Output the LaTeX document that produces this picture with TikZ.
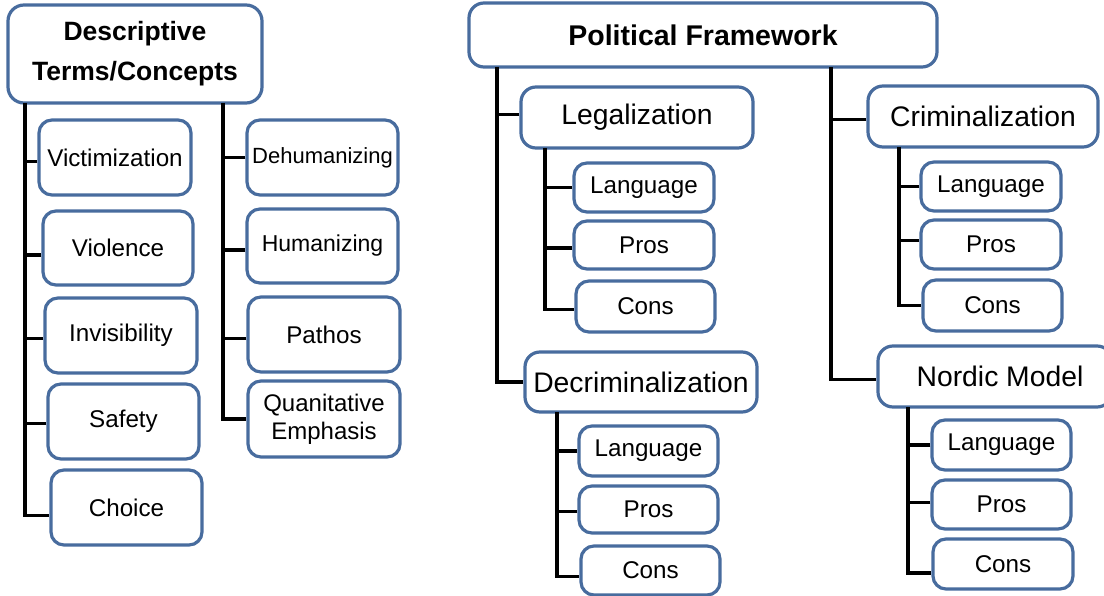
\documentclass[tikz,border=0pt]{standalone}
\usepackage{fontspec}
\setmainfont{Liberation Sans}
\definecolor{boxblue}{RGB}{72,108,158}
\tikzset{
  bx/.style={draw=boxblue, line width=3.2pt, fill=white, rounded corners=13pt, inner sep=0pt, align=center},
  topbox/.style={bx, rounded corners=16pt, font=\bfseries\fontsize{26.5}{40}\selectfont},
  lvlone/.style={bx, rounded corners=15pt, font=\fontsize{28.3}{32}\selectfont},
  lvltwo/.style={bx, font=\fontsize{24.2}{28}\selectfont},
  conn/.style={draw=black, line width=3.4pt},
}
\begin{document}
\begin{tikzpicture}[x=1pt,y=-1pt]
\useasboundingbox (0,0) rectangle (1104,596);
\clip (0,0) rectangle (1104,596);

% ---------- left tree ----------
\node[topbox, minimum width=254pt, minimum height=98pt] (desc) at (135,54) {Descriptive\\Terms/Concepts};
\node[lvltwo, minimum width=152pt, minimum height=75pt] (vict) at (115,157.5) {Victimization};
\node[lvltwo, minimum width=150pt, minimum height=74pt] (viol) at (118,248) {Violence};
\node[lvltwo, minimum width=152pt, minimum height=75pt] (invis) at (121,335.5) {Invisibility};
\node[lvltwo, minimum width=151pt, minimum height=75pt] (safe) at (123.5,421.5) {Safety};
\node[lvltwo, minimum width=151pt, minimum height=75pt] (choice) at (126.5,507.5) {Choice};

\node[lvltwo, font=\fontsize{22}{26}\selectfont, minimum width=151pt, minimum height=75pt] (dehum) at (322.5,157.5) {Dehumanizing};
\node[lvltwo, font=\fontsize{23}{27}\selectfont, minimum width=151pt, minimum height=74pt] (hum) at (322.5,246) {Humanizing};
\node[lvltwo, minimum width=152pt, minimum height=75pt] (pathos) at (324,334.5) {Pathos};
\node[lvltwo, font=\fontsize{24}{28}\selectfont, minimum width=152pt, minimum height=76pt] (quant) at (324,419) {Quanitative\\Emphasis};

\coordinate (ta) at (25,103);
\coordinate (tb) at (223,103);
\draw[conn] (ta) |- ([yshift=-8pt]choice.west);
\draw[conn] ([yshift=-4pt]vict.west) -- ([yshift=-4pt]vict.west -| ta);
\draw[conn] ([yshift=-7pt]viol.west) -- ([yshift=-7pt]viol.west -| ta);
\draw[conn] ([yshift=-3pt]invis.west) -- ([yshift=-3pt]invis.west -| ta);
\draw[conn] ([yshift=-2pt]safe.west) -- ([yshift=-2pt]safe.west -| ta);
\draw[conn] (tb) |- (quant.west);
\draw[conn] (dehum.west) -- (dehum.west -| tb);
\draw[conn] ([yshift=-4pt]hum.west) -- ([yshift=-4pt]hum.west -| tb);
\draw[conn] ([yshift=-4pt]pathos.west) -- ([yshift=-4pt]pathos.west -| tb);

% ---------- right tree ----------
\node[bx, rounded corners=15pt, font=\bfseries\fontsize{28.5}{32}\selectfont, minimum width=468pt, minimum height=64pt] (pol) at (703,35) {Political Framework};

\node[lvlone, minimum width=232pt, minimum height=61pt] (leg) at (637,117.5) {Legalization};
\node[lvltwo, minimum width=140pt, minimum height=49pt] (legA) at (644,187.5) {Language};
\node[lvltwo, minimum width=140pt, minimum height=48pt] (legB) at (644,245) {Pros};
\node[lvltwo, minimum width=139pt, minimum height=51pt] (legC) at (645.5,306.5) {Cons};

\node[lvlone, minimum width=232pt, minimum height=60pt] (dec) at (641,382) {Decriminalization};
\node[lvltwo, minimum width=139pt, minimum height=50pt] (decA) at (648.5,451) {Language};
\node[lvltwo, minimum width=139pt, minimum height=47pt] (decB) at (648.5,509.5) {Pros};
\node[lvltwo, minimum width=139pt, minimum height=49pt] (decC) at (650.5,570.5) {Cons};

\node[lvlone, minimum width=230pt, minimum height=61pt] (crim) at (983,116.5) {Criminalization};
\node[lvltwo, minimum width=140pt, minimum height=49pt] (crimA) at (991,186.5) {Language};
\node[lvltwo, minimum width=140pt, minimum height=49pt] (crimB) at (991,244.5) {Pros};
\node[lvltwo, minimum width=139pt, minimum height=51pt] (crimC) at (992.5,305.5) {Cons};

\node[lvlone, minimum width=234pt, minimum height=61pt] (nord) at (995,376.5) {\hspace*{10pt}Nordic Model};
\node[lvltwo, minimum width=139pt, minimum height=50pt] (nordA) at (1001.5,445) {Language};
\node[lvltwo, minimum width=139pt, minimum height=49pt] (nordB) at (1001.5,504.5) {Pros};
\node[lvltwo, minimum width=140pt, minimum height=50pt] (nordC) at (1003,564) {Cons};

\coordinate (pa) at (497,67);
\coordinate (pb) at (831,67);
\draw[conn] (pa) |- (dec.west);
\draw[conn] ([yshift=3pt]leg.west) -- ([yshift=3pt]leg.west -| pa);
\draw[conn] (pb) |- ([yshift=-3pt]nord.west);
\draw[conn] ([yshift=-3pt]crim.west) -- ([yshift=-3pt]crim.west -| pb);

\coordinate (la) at (545,148);
\draw[conn] (la) |- ([yshift=-3pt]legC.west);
\draw[conn] (legA.west) -- (legA.west -| la);
\draw[conn] ([yshift=-3pt]legB.west) -- ([yshift=-3pt]legB.west -| la);

\coordinate (da) at (557,412);
\draw[conn] (da) |- ([yshift=-6pt]decC.west);
\draw[conn] (decA.west) -- (decA.west -| da);
\draw[conn] ([yshift=-2pt]decB.west) -- ([yshift=-2pt]decB.west -| da);

\coordinate (ca) at (899,147);
\draw[conn] (ca) |- (crimC.west);
\draw[conn] (crimA.west) -- (crimA.west -| ca);
\draw[conn] ([yshift=4pt]crimB.west) -- ([yshift=4pt]crimB.west -| ca);

\coordinate (na) at (908,407);
\draw[conn] (na) |- ([yshift=-9pt]nordC.west);
\draw[conn] (nordA.west) -- (nordA.west -| na);
\draw[conn] ([yshift=2pt]nordB.west) -- ([yshift=2pt]nordB.west -| na);
\end{tikzpicture}
\end{document}
